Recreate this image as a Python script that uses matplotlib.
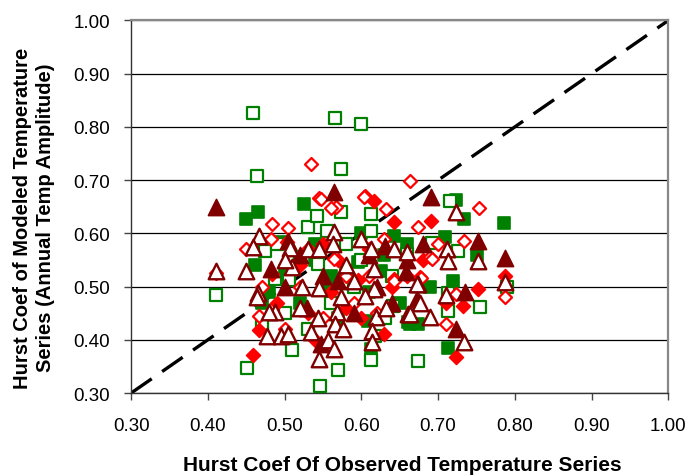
import matplotlib
matplotlib.use('Agg')
import matplotlib.pyplot as plt

plt.rcParams['font.family'] = ['Liberation Sans', 'DejaVu Sans']

# filled green squares
fg_x = [0.450, 0.465, 0.462, 0.495, 0.525, 0.642, 0.596, 0.723, 0.734, 0.786, 0.709, 0.751,
        0.713, 0.664, 0.674, 0.609, 0.661, 0.613, 0.560, 0.580, 0.540, 0.480, 0.520, 0.630,
        0.660, 0.570, 0.610, 0.500, 0.470, 0.690, 0.600, 0.540, 0.650, 0.720, 0.555, 0.625]
fg_y = [0.627, 0.640, 0.540, 0.584, 0.655, 0.595, 0.546, 0.662, 0.627, 0.620, 0.593, 0.559,
        0.385, 0.430, 0.430, 0.435, 0.434, 0.383, 0.520, 0.530, 0.550, 0.490, 0.470, 0.560,
        0.580, 0.440, 0.490, 0.530, 0.470, 0.500, 0.600, 0.580, 0.470, 0.510, 0.500, 0.530]

# open green squares
og_x = [0.459, 0.565, 0.600, 0.574, 0.464, 0.451, 0.546, 0.569, 0.674, 0.613, 0.510, 0.411,
        0.754, 0.790, 0.713, 0.713, 0.692, 0.715, 0.726, 0.531, 0.542, 0.475, 0.520, 0.544,
        0.488, 0.506, 0.573, 0.613, 0.555, 0.612, 0.660, 0.618, 0.641, 0.631, 0.590, 0.560,
        0.500, 0.470, 0.640, 0.600, 0.530, 0.580, 0.490]
og_y = [0.826, 0.817, 0.806, 0.720, 0.707, 0.347, 0.313, 0.343, 0.360, 0.362, 0.380, 0.485,
        0.461, 0.500, 0.455, 0.487, 0.582, 0.660, 0.567, 0.612, 0.633, 0.567, 0.555, 0.543,
        0.515, 0.513, 0.640, 0.636, 0.605, 0.605, 0.561, 0.407, 0.464, 0.440, 0.500, 0.470,
        0.450, 0.430, 0.520, 0.550, 0.420, 0.580, 0.580]

# filled red diamonds
fr_x = [0.483, 0.503, 0.616, 0.643, 0.691, 0.596, 0.787, 0.752, 0.723, 0.732, 0.459, 0.466,
        0.560, 0.530, 0.610, 0.580, 0.640, 0.520, 0.630, 0.570, 0.490, 0.680, 0.600, 0.550,
        0.660, 0.710, 0.540]
fr_y = [0.523, 0.584, 0.660, 0.622, 0.624, 0.513, 0.520, 0.496, 0.368, 0.464, 0.371, 0.418,
        0.490, 0.450, 0.570, 0.460, 0.500, 0.540, 0.410, 0.550, 0.470, 0.550, 0.440, 0.580,
        0.520, 0.470, 0.400]

# open red diamonds
or_x = [0.483, 0.505, 0.545, 0.450, 0.482, 0.605, 0.567, 0.632, 0.674, 0.690, 0.643, 0.564,
        0.677, 0.753, 0.734, 0.692, 0.787, 0.723, 0.710, 0.642, 0.678, 0.466, 0.535, 0.664,
        0.547, 0.604, 0.560, 0.410, 0.520, 0.590, 0.500, 0.620, 0.550, 0.470, 0.630, 0.580,
        0.530, 0.610, 0.700]
or_y = [0.618, 0.610, 0.666, 0.570, 0.590, 0.670, 0.650, 0.646, 0.612, 0.556, 0.514, 0.552,
        0.518, 0.647, 0.586, 0.552, 0.481, 0.486, 0.430, 0.510, 0.517, 0.444, 0.730, 0.698,
        0.664, 0.668, 0.648, 0.525, 0.500, 0.470, 0.420, 0.450, 0.440, 0.500, 0.590, 0.520,
        0.570, 0.520, 0.580]

# filled dark red triangles
fd_x = [0.410, 0.482, 0.505, 0.564, 0.691, 0.631, 0.658, 0.752, 0.787, 0.735, 0.723, 0.672,
        0.548, 0.529, 0.570, 0.610, 0.520, 0.640, 0.590, 0.550, 0.660, 0.500, 0.620, 0.680]
fd_y = [0.650, 0.533, 0.585, 0.677, 0.668, 0.577, 0.528, 0.586, 0.554, 0.490, 0.420, 0.476,
        0.393, 0.460, 0.510, 0.560, 0.560, 0.470, 0.450, 0.520, 0.550, 0.500, 0.500, 0.580]

# open dark red triangles
od_x = [0.467, 0.459, 0.507, 0.530, 0.545, 0.410, 0.450, 0.510, 0.523, 0.545, 0.465, 0.564,
        0.563, 0.599, 0.612, 0.643, 0.660, 0.617, 0.674, 0.616, 0.723, 0.712, 0.713, 0.752,
        0.787, 0.710, 0.734, 0.690, 0.661, 0.677, 0.673, 0.477, 0.495, 0.505, 0.488, 0.479,
        0.464, 0.544, 0.535, 0.545, 0.573, 0.568, 0.566, 0.576, 0.557, 0.564, 0.619, 0.614,
        0.614, 0.632, 0.663, 0.605, 0.580, 0.520, 0.500, 0.590]
od_y = [0.595, 0.575, 0.572, 0.570, 0.571, 0.530, 0.530, 0.536, 0.500, 0.497, 0.487, 0.602,
        0.580, 0.589, 0.571, 0.571, 0.565, 0.533, 0.505, 0.495, 0.640, 0.571, 0.548, 0.548,
        0.509, 0.484, 0.396, 0.443, 0.449, 0.470, 0.505, 0.408, 0.408, 0.410, 0.452, 0.452,
        0.480, 0.440, 0.415, 0.364, 0.480, 0.452, 0.430, 0.420, 0.400, 0.383, 0.442, 0.417,
        0.396, 0.460, 0.448, 0.482, 0.540, 0.460, 0.550, 0.510]

ticks = [0.30, 0.40, 0.50, 0.60, 0.70, 0.80, 0.90, 1.00]

fig = plt.figure(figsize=(6.94, 4.77), dpi=100)
ax = fig.add_axes([0.189, 0.174, 0.774, 0.781])

# 1:1 line
ax.plot([0.3, 1.0], [0.3, 1.0], color='black', lw=2.4, dashes=(7.5, 3.8), zorder=1)

green = '#008000'
red = '#ff0000'
dred = '#800000'
ax.scatter(fg_x, fg_y, marker='s', s=84, c=green, edgecolors=green, linewidths=1.2, zorder=2)
ax.scatter(og_x, og_y, marker='s', s=76, facecolors='white', edgecolors=green, linewidths=1.6, zorder=3)
ax.scatter(fr_x, fr_y, marker='D', s=50, c=red, edgecolors=red, linewidths=1.2, zorder=4)
ax.scatter(or_x, or_y, marker='D', s=44, facecolors='white', edgecolors=red, linewidths=1.6, zorder=5)
ax.scatter(fd_x, fd_y, marker='^', s=135, c=dred, edgecolors=dred, linewidths=1.2, zorder=6)
ax.scatter(od_x, od_y, marker='^', s=125, facecolors='white', edgecolors=dred, linewidths=1.7, zorder=7)

ax.set_xlim(0.3, 1.0)
ax.set_ylim(0.3, 1.0)
ax.set_xticks(ticks)
ax.set_yticks(ticks)
ax.set_xticklabels(['%.2f' % t for t in ticks], fontsize=13.5)
ax.set_yticklabels(['%.2f' % t for t in ticks], fontsize=13.5)
ax.tick_params(direction='out', length=5, width=1, color='#444444')
ax.tick_params(axis='x', pad=12)
ax.tick_params(axis='y', pad=10)

ax.yaxis.grid(True, color='black', lw=0.9)
ax.set_axisbelow(True)
for side in ['top', 'right']:
    ax.spines[side].set_color('#888888')
    ax.spines[side].set_linewidth(1.6)
for side in ['left', 'bottom']:
    ax.spines[side].set_color('#333333')
    ax.spines[side].set_linewidth(1.0)

fig.text(402 / 694, 1 - 466 / 477, 'Hurst Coef Of Observed Temperature Series',
         fontsize=15, fontweight='bold', ha='center', va='center')
fig.text(34 / 694, 1 - 218 / 477,
         'Hurst Coef of Modeled Temperature\nSeries (Annual Temp Amplitude)',
         fontsize=14.5, fontweight='bold', ha='center', va='center', rotation=90,
         linespacing=1.3, multialignment='center')

fig.savefig('out.png', dpi=100)
